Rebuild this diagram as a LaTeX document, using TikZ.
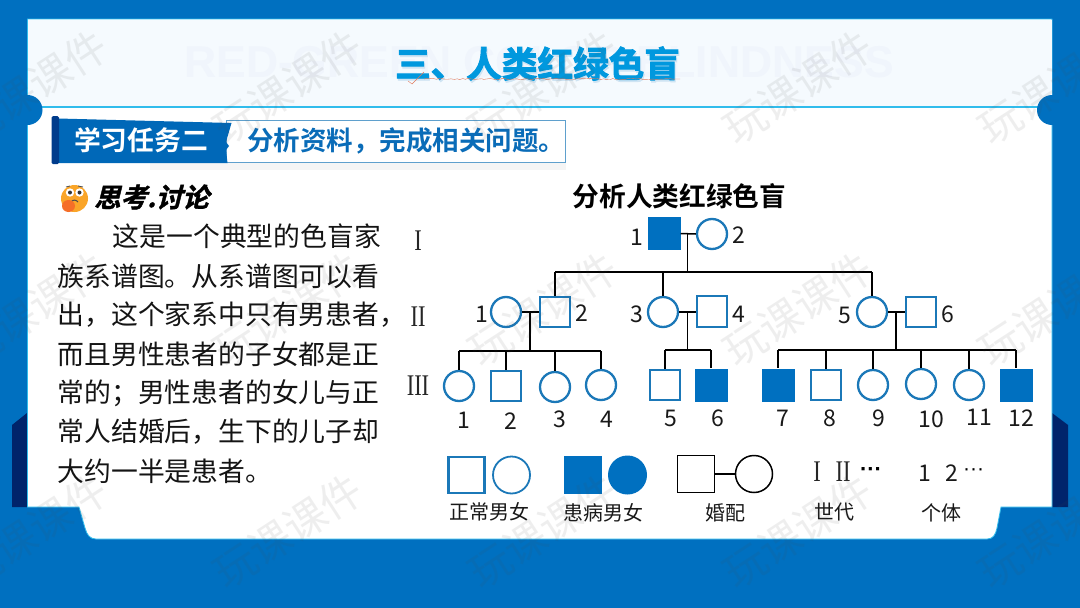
\documentclass[tikz,border=0pt]{standalone}
\usepackage{fontspec}
\usepackage{graphicx}
\setmainfont{Noto Sans CJK SC}
\newfontfamily\cjkheavy[FakeBold=2.6]{Noto Sans CJK SC Bold}
\newfontfamily\cjkbold{Noto Sans CJK SC Bold}
\newfontfamily\cjkslant[FakeSlant=0.25,FakeBold=1.5]{Noto Sans CJK SC Bold}
\newfontfamily\romanfont{Liberation Serif}
\newfontfamily\latinbg{Liberation Sans Bold}
\newfontfamily\dotfont{Liberation Sans}
\usetikzlibrary{decorations.pathmorphing}
\definecolor{frame}{HTML}{0070C0}
\definecolor{darkfill}{HTML}{00246B}
\definecolor{edge}{HTML}{30BCEC}
\definecolor{band}{HTML}{F5FAFE}
\definecolor{ghost}{HTML}{F0F5FC}
\definecolor{symb}{HTML}{1B78B8}
\definecolor{fillb}{HTML}{0070C0}
\definecolor{tabd}{HTML}{0068B8}
\definecolor{tabl}{HTML}{0A6CB8}
\definecolor{titleb}{HTML}{0098DE}
\definecolor{titles}{HTML}{CFE4F3}
\definecolor{squig}{HTML}{E1785A}
\definecolor{tabbar}{HTML}{003C8C}
\definecolor{emojiface}{HTML}{FAA528}
\definecolor{emojihand}{HTML}{F56E28}
\newcommand{\fs}[1]{\fontsize{#1}{#1}\selectfont}
\newcommand{\narrowtxt}[1]{\scalebox{0.75}[1]{#1}}
\tikzset{
  x=1pt,y=-1pt,
  sq/.style={rectangle,draw=symb,line width=2.3pt,fill=white,minimum size=30.5pt,inner sep=0pt},
  ci/.style={circle,draw=symb,line width=2.3pt,fill=white,minimum size=30pt,inner sep=0pt},
  asq/.style={rectangle,fill=fillb,minimum size=33pt,inner sep=0pt},
  lsq/.style={rectangle,draw=symb,line width=2.2pt,fill=white,minimum size=36pt,inner sep=0pt},
  lci/.style={circle,draw=symb,line width=1.8pt,fill=white,minimum size=37pt,inner sep=0pt},
  lasq/.style={rectangle,fill=fillb,minimum size=38.5pt,inner sep=0pt},
  laci/.style={circle,fill=fillb,minimum size=39pt,inner sep=0pt},
  lbsq/.style={rectangle,draw=black,line width=1.5pt,fill=white,minimum size=37pt,inner sep=0pt},
  lbci/.style={circle,draw=black,line width=1.5pt,fill=white,minimum size=37pt,inner sep=0pt},
  link/.style={draw=black,line width=1.5pt},
  num/.style={font=\fs{23},text=black!90,inner sep=0pt},
  gen/.style={font=\romanfont\fs{30},text=black!85,inner sep=0pt},
  capt/.style={font=\fs{20},text=black!90,inner sep=0pt},
  body/.style={font=\fs{26.8},text=black!92,inner sep=0pt,anchor=west},
  wm/.style={font=\fs{42},rotate=33,text=black!70,text opacity=0.09,inner sep=0pt},
}
\begin{document}
\begin{tikzpicture}
\useasboundingbox (0,0) rectangle (1080,608);
% frame
\fill[frame] (0,0) rectangle (1080,608);
\fill[darkfill] (12,425) -- (27,413) -- (27,507) -- (12,507) -- cycle;
\fill[darkfill] (1068,425) -- (1052,413) -- (1052,507) -- (1068,507) -- cycle;
% panel
\fill[white,draw=edge,line width=0.8pt] (27.5,19) -- (1052,19) -- (1052,507) -- (1001,507) -- (997,528)
  .. controls (995.5,535) and (993,539) .. (987,539) -- (96,539)
  .. controls (90,539) and (87,535) .. (85,528) -- (79,507) -- (27.5,507) -- cycle;
\fill[band] (28,19.5) rectangle (1051.6,107);
\draw[edge,line width=1.1pt] (28,107) -- (1052,107);
\fill[frame] (27.5,110) circle (15);
\fill[frame] (1052,110) circle (15);
% title
\node[font=\latinbg\fs{44.5},text=ghost,inner sep=0pt] (ghosttitle) at (539,62) {RED-GREEN COLOR BLINDNESS};
\node[font=\cjkheavy\fs{35.6},text=titles,inner sep=0pt] (titleshadow) at (538.5,65.5) {三、人类红绿色盲};
\node[font=\cjkheavy\fs{35.6},text=titleb,inner sep=0pt] (title) at (537.5,63.5) {三、人类红绿色盲};
\draw[decorate,decoration={random steps,segment length=3pt,amplitude=0.8pt},draw=squig,line width=0.4pt] (424,79) -- (680,79);
\draw[draw=squig,line width=0.4pt] (408,81) -- (412,84) -- (424,72);
% task tab
\fill[black!4] (150,163) rectangle (566,170);
\fill[white,draw=symb!70!white,line width=0.9pt] (226,120) rectangle (565,162);
\fill[tabd] (58,118.5) -- (231.5,123) -- (226,142) -- (229,146) -- (226,150) -- (227.5,163) -- (58,163) -- cycle;
\fill[tabbar,rounded corners=1.5pt] (51.5,116) rectangle (59,164);
\node[font=\cjkbold\fs{26.8},text=white,inner sep=0pt] (tabtitle) at (141,140) {学习任务二};
\node[font=\cjkbold\fs{26.5},text=tabl,inner sep=0pt] (tabtext) at (406,141) {分析资料，完成相关问题。};
% emoji
\fill[emojiface] (74.5,198.5) circle (13.5);
\fill[white] (70,192.5) circle (4.2) (79.5,192.5) circle (4.2);
\fill[black!80] (70,192.5) circle (2) (79.5,192.5) circle (2);
\draw[black!70,line width=0.8pt] (66,187) -- (70,186);
\draw[black!70,line width=0.8pt] (78,186) -- (83,187);
\draw[black!70,line width=1pt] (71,202) .. controls (73,199.5) and (76,199.5) .. (78,202);
\fill[emojihand] (68.5,206) ellipse [x radius=6.5,y radius=6];
% left text
\node[font=\cjkslant\fs{26.5},text=black,inner sep=0pt,anchor=west] (disc) at (94,197) {思考.讨论};
\node[body] (l1) at (112.6,236) {这是一个典型的色盲家};
\node[body] (l2) at (57.5,276) {族系谱图。从系谱图可以看};
\node[body] (l3) at (57.5,315) {出，这个家系中只有男患者，};
\node[body] (l4) at (57.5,354) {而且男性患者的子女都是正};
\node[body] (l5) at (57.5,393) {常的；男性患者的女儿与正};
\node[body] (l6) at (57.5,432) {常人结婚后，生下的儿子却};
\node[body] (l7) at (57.5,471) {大约一半是患者。};
% pedigree title
\node[font=\cjkbold\fs{26.7},text=black,inner sep=0pt] (pedtitle) at (679.5,196) {分析人类红绿色盲};
% generation labels
\node[gen] (g1) at (418,241) {\narrowtxt{I}};
\node[gen] (g2) at (418,317) {\narrowtxt{II}};
\node[gen] (g3) at (418,386) {\narrowtxt{III}};
% generation I
\node[asq] (Ia) at (664,233.5) {};
\node[ci] (Ib) at (712,234) {};
% generation II
\node[ci] (IIa) at (506,312) {};
\node[sq] (IIb) at (555,312) {};
\node[ci] (IIc) at (663,312) {};
\node[sq] (IId) at (712,311.5) {};
\node[ci] (IIe) at (872,312) {};
\node[sq] (IIf) at (921,312) {};
% generation III
\node[ci] (a1) at (459,386) {};
\node[sq] (a2) at (506,386) {};
\node[ci] (a3) at (555,387) {};
\node[ci] (a4) at (601,385) {};
\node[sq] (a5) at (665,385) {};
\node[asq] (a6) at (711,385) {};
\node[asq] (a7) at (778,385) {};
\node[sq] (a8) at (826,385) {};
\node[ci] (a9) at (873,385) {};
\node[ci] (a10) at (921,384) {};
\node[ci] (a11) at (969,385) {};
\node[asq] (a12) at (1016,385) {};
% junctions
\coordinate (m1) at (687.5,234);
\coordinate (b1) at (687.5,272);
\coordinate (m2) at (530,312);
\coordinate (b2) at (530,351);
\coordinate (m3) at (687.5,312);
\coordinate (b3) at (687.5,350);
\coordinate (m4) at (896,312);
\coordinate (b4) at (896,350);
% connectors
\draw[link] (Ia.east) -- (Ib.west);
\draw[link] (m1) -- (b1);
\draw[link] (IIb.north |- b1) -- (IIe.north |- b1);
\draw[link] (IIb.north |- b1) -- (IIb.north);
\draw[link] (IIc.north |- b1) -- (IIc.north);
\draw[link] (IIe.north |- b1) -- (IIe.north);
\draw[link] (IIa.east) -- (IIb.west);
\draw[link] (m2) -- (b2);
\draw[link] (a1.north |- b2) -- (a4.north |- b2);
\draw[link] (a1.north |- b2) -- (a1.north);
\draw[link] (a2.north |- b2) -- (a2.north);
\draw[link] (a3.north |- b2) -- (a3.north);
\draw[link] (a4.north |- b2) -- (a4.north);
\draw[link] (IIc.east) -- (IId.west |- IIc.east);
\draw[link] (m3) -- (b3);
\draw[link] (a5.north |- b3) -- (a6.north |- b3);
\draw[link] (a5.north |- b3) -- (a5.north);
\draw[link] (a6.north |- b3) -- (a6.north);
\draw[link] (IIe.east) -- (IIf.west);
\draw[link] (m4) -- (b4);
\draw[link] (a7.north |- b4) -- (a12.north |- b4);
\draw[link] (a7.north |- b4) -- (a7.north);
\draw[link] (a8.north |- b4) -- (a8.north);
\draw[link] (a9.north |- b4) -- (a9.north);
\draw[link] (a10.north |- b4) -- (a10.north);
\draw[link] (a11.north |- b4) -- (a11.north);
\draw[link] (a12.north |- b4) -- (a12.north);
% numbers
\node[num] (n1) at (637,237) {1};
\node[num] (n2) at (739,235) {2};
\node[num] (n3) at (482,314) {1};
\node[num] (n4) at (582,313) {2};
\node[num] (n5) at (637,314) {3};
\node[num] (n6) at (739,314) {4};
\node[num] (n7) at (845,315) {5};
\node[num] (n8) at (948,314) {6};
\node[num] (c1) at (464,420) {1};
\node[num] (c2) at (511,421) {2};
\node[num] (c3) at (560,419) {3};
\node[num] (c4) at (607,419) {4};
\node[num] (c5) at (671,418) {5};
\node[num] (c6) at (718,418) {6};
\node[num] (c7) at (783,418) {7};
\node[num] (c8) at (830,418) {8};
\node[num] (c9) at (879,418) {9};
\node[num] (c10) at (931,419) {10};
\node[num] (c11) at (979,417) {11};
\node[num] (c12) at (1021,418) {12};
% legend
\node[lsq] (L1) at (466.5,475) {};
\node[lci] (L2) at (511.5,475) {};
\node[lasq] (L3) at (583,475) {};
\node[laci] (L4) at (627.5,475) {};
\node[lbsq] (L5) at (696,474) {};
\node[lbci] (L6) at (754,474) {};
\draw[link] (L5.east) -- (L6.west);
\node[capt] (t1) at (489,512) {正常男女};
\node[capt] (t2) at (603,513) {患病男女};
\node[capt] (t3) at (725,513) {婚配};
\node[capt] (t4) at (834,512) {世代};
\node[capt] (t5) at (941,513) {个体};
\node[gen] (t6) at (817,472) {\narrowtxt{I}};
\node[gen] (t7) at (843,472) {\narrowtxt{II}};
\node[font=\dotfont\bfseries\fs{22},inner sep=0pt] (t8) at (871,472) {···};
\node[num] (t9) at (925,473) {1};
\node[num] (t10) at (952,473) {2};
\node[font=\dotfont\fs{21},inner sep=0pt] (t11) at (973.5,472) {···};
% watermark
\foreach \y in {87,309,531}{
  \foreach \x in {33,288,543,798,1053}{
    \node[wm] at (\x,\y) {玩课课件};
  }
}
\end{tikzpicture}
\end{document}
